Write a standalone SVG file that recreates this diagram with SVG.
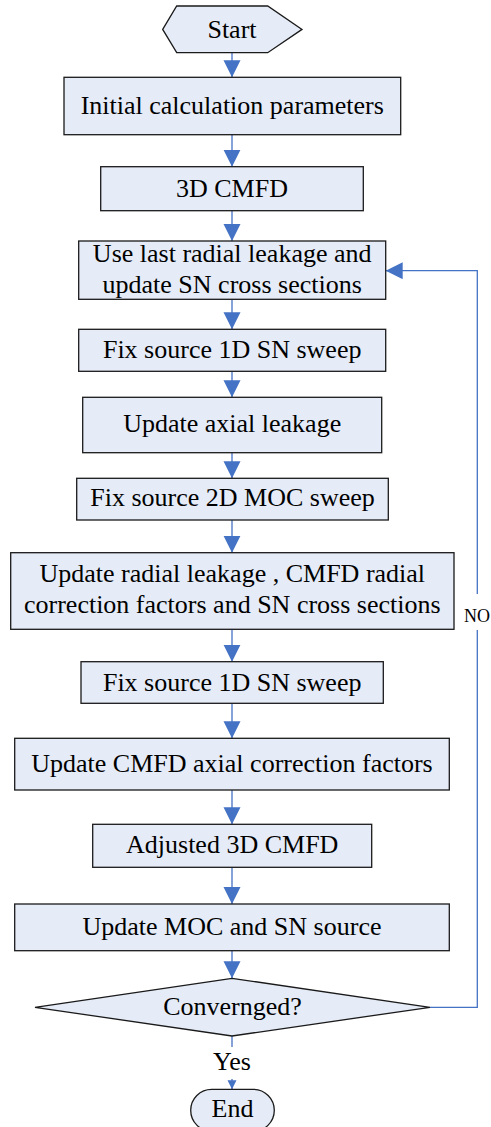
<svg xmlns="http://www.w3.org/2000/svg" width="491" height="1127" viewBox="0 0 491 1127">
  <style>
    .shape { fill: #E6ECF7; stroke: #1a1a1a; stroke-width: 1.3; }
    .label { font-family: "Liberation Serif", "Times New Roman", serif; font-size: 26px; fill: #000; text-anchor: middle; }
    .small { font-size: 18px; }
    .link { fill: none; stroke: #4472C4; stroke-width: 1.3; }
    .tag-bg { fill: #ffffff; stroke: none; }
  </style>
  <defs>
    <marker id="arrow" markerUnits="userSpaceOnUse" markerWidth="18" markerHeight="18" refX="17" refY="8.5" orient="auto">
      <path d="M0,0 L17,8.5 L0,17 Z" fill="#4472C4"/>
    </marker>
    <marker id="arrow-small" markerUnits="userSpaceOnUse" markerWidth="10" markerHeight="10" refX="9" refY="4.5" orient="auto">
      <path d="M0,0 L9,4.5 L0,9 Z" fill="#4472C4"/>
    </marker>
  </defs>

  <rect width="491" height="1127" fill="#ffffff"/>

  <!-- connectors -->
  <g id="connectors">
    <line class="link" x1="232" y1="52.7" x2="232" y2="77.3" marker-end="url(#arrow)"/>
    <line class="link" x1="232" y1="134.7" x2="232" y2="166.7" marker-end="url(#arrow)"/>
    <line class="link" x1="232" y1="210.7" x2="232" y2="241" marker-end="url(#arrow)"/>
    <line class="link" x1="232" y1="299.3" x2="232" y2="329.3" marker-end="url(#arrow)"/>
    <line class="link" x1="232" y1="371.3" x2="232" y2="397.3" marker-end="url(#arrow)"/>
    <line class="link" x1="232" y1="452.7" x2="232" y2="478.3" marker-end="url(#arrow)"/>
    <line class="link" x1="232" y1="520" x2="232" y2="552.7" marker-end="url(#arrow)"/>
    <line class="link" x1="232" y1="629.3" x2="232" y2="661.7" marker-end="url(#arrow)"/>
    <line class="link" x1="232" y1="703.3" x2="232" y2="738.3" marker-end="url(#arrow)"/>
    <line class="link" x1="232" y1="790" x2="232" y2="824.3" marker-end="url(#arrow)"/>
    <line class="link" x1="232" y1="867.3" x2="232" y2="904" marker-end="url(#arrow)"/>
    <line class="link" x1="232" y1="950.7" x2="232" y2="978.3" marker-end="url(#arrow)"/>
    <!-- exit when converged -->
    <line class="link" x1="232" y1="1036" x2="232" y2="1089.3" marker-end="url(#arrow-small)"/>
    <rect class="tag-bg" x="210" y="1047" width="44" height="32"/>
    <text class="label" x="232" y="1070">Yes</text>
    <!-- loop back when not converged -->
    <polyline class="link" points="430,1007.3 477.3,1007.3 477.3,270.7 385.7,270.7" marker-end="url(#arrow)"/>
    <rect class="tag-bg" x="462" y="594" width="29" height="36"/>
    <text class="label small" x="477" y="621.7">NO</text>
  </g>

  <!-- nodes -->
  <g id="start">
    <polygon class="shape" points="162.7,29.4 176.7,6 267.7,6 302,29.4 267.7,52.7 176.7,52.7"/>
    <text class="label" x="232" y="37.5">Start</text>
  </g>
  <g id="init-params">
    <rect class="shape" x="64" y="77.3" width="336.7" height="57.4"/>
    <text class="label" x="232.3" y="113.5">Initial calculation parameters</text>
  </g>
  <g id="cmfd-3d">
    <rect class="shape" x="100.7" y="166.7" width="262.6" height="44"/>
    <text class="label" x="232" y="197.3">3D CMFD</text>
  </g>
  <g id="use-last-leakage">
    <rect class="shape" x="78.7" y="241" width="307" height="58.3"/>
    <text class="label" x="232.2" y="261.7">Use last radial leakage and</text>
    <text class="label" x="232.2" y="293.3">update SN cross sections</text>
  </g>
  <g id="sn-sweep-1">
    <rect class="shape" x="78.7" y="329.3" width="307" height="42"/>
    <text class="label" x="232.2" y="357.7">Fix source 1D SN sweep</text>
  </g>
  <g id="axial-leakage">
    <rect class="shape" x="82.7" y="397.3" width="299" height="55.4"/>
    <text class="label" x="232.2" y="432.3">Update axial leakage</text>
  </g>
  <g id="moc-sweep">
    <rect class="shape" x="76.7" y="478.3" width="311.6" height="41.7"/>
    <text class="label" x="232.5" y="506">Fix source 2D MOC sweep</text>
  </g>
  <g id="radial-update">
    <rect class="shape" x="10.7" y="552.7" width="443.3" height="76.6"/>
    <text class="label" x="232.3" y="581.7">Update radial leakage , CMFD radial</text>
    <text class="label" x="232.3" y="613.3">correction factors and SN cross sections</text>
  </g>
  <g id="sn-sweep-2">
    <rect class="shape" x="81" y="661.7" width="302.3" height="41.6"/>
    <text class="label" x="232.2" y="690.7">Fix source 1D SN sweep</text>
  </g>
  <g id="axial-factors">
    <rect class="shape" x="14.7" y="738.3" width="434.6" height="51.7"/>
    <text class="label" x="232" y="771.7">Update CMFD axial correction factors</text>
  </g>
  <g id="adjusted-cmfd">
    <rect class="shape" x="92.7" y="824.3" width="279" height="43"/>
    <text class="label" x="232.2" y="853.3">Adjusted 3D CMFD</text>
  </g>
  <g id="source-update">
    <rect class="shape" x="14.7" y="904" width="434.6" height="46.7"/>
    <text class="label" x="232" y="935">Update MOC and SN source</text>
  </g>
  <g id="converged">
    <polygon class="shape" points="232,978.3 430,1007.3 232,1036 35,1007.3"/>
    <text class="label" x="232.5" y="1015">Convernged?</text>
  </g>
  <g id="end">
    <rect class="shape" x="190.7" y="1089.3" width="83.6" height="42" rx="21" ry="21"/>
    <text class="label" x="232.5" y="1117.3">End</text>
  </g>
</svg>
